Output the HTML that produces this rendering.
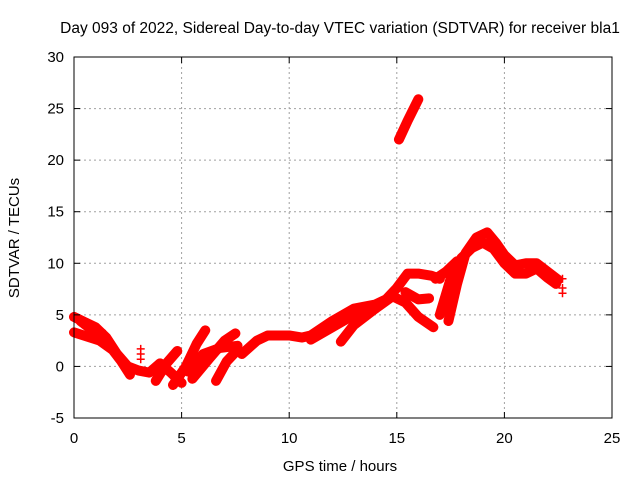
<!DOCTYPE html>
<html><head><meta charset="utf-8"><style>
body{margin:0;background:#fff;}
svg{display:block;font-family:"Liberation Sans",sans-serif;}
</style></head><body>
<svg id="chart" width="640" height="480">
<rect width="640" height="480" fill="#fff"/>
<text x="340" y="33" text-anchor="middle" font-size="15.5" fill="#000">Day 093 of 2022, Sidereal Day-to-day VTEC variation (SDTVAR) for receiver bla1</text>
<text x="340" y="471" text-anchor="middle" font-size="15" fill="#000">GPS time / hours</text>
<text transform="translate(19,238) rotate(-90)" text-anchor="middle" font-size="15" fill="#000">SDTVAR / TECUs</text>
<g id="grid"></g><g id="marks"></g><g id="axes"></g>
</svg>
<script>
const xTicks=[0,5,10,15,20,25];
const yTicks=[-5,0,5,10,15,20,25,30];
const trackA=[[0,4.8],[0.5,4.3],[1,3.8],[1.5,2.8],[2,1.2],[2.5,0],[3,-0.4],[3.5,-0.6],[4,0.3],[4.5,-0.6],[5,-1.6]];
const trackB=[[0,3.3],[0.6,2.9],[1.2,2.5],[1.8,1.6],[2.2,0.5],[2.6,-0.8]];
const trackB2=[[0.3,4.4],[0.8,3.6],[1.3,3.2]];
const trackC=[[4.6,-1.8],[5.2,0],[5.7,2.2],[6.1,3.5]];
const trackD=[[5.5,-1.2],[6.3,0.8],[7,2.5],[7.5,3.2]];
const trackE=[[5.3,-0.5],[6,1.2],[6.8,1.8],[7.6,2]];
const trackF=[[6.6,-1.4],[7.1,0.5],[7.6,1.6]];
const trackG=[[3.8,-1.4],[4.3,0.3],[4.8,1.5]];
const trackMain=[[7.8,1.2],[8.5,2.5],[9,3],[10,3],[10.6,2.8],[11,3],[12,4.4],[13,5.6],[14,6],[14.5,6.5],[15,7.6],[15.5,9],[16,9],[16.6,8.8],[17,8.5]];
const trackMain2=[[11,2.6],[12,3.8],[13,5],[14,5.6]];
const trackH=[[12.4,2.4],[13,4],[14,5.6],[14.8,6.8],[15.4,6.2],[16,4.8],[16.7,3.8]];
const trackI=[[15.4,7.2],[16,6.5],[16.5,6.6]];
const trackSpike=[[15.1,22],[15.5,23.8],[16,25.9]];
const trackJ=[[17.4,4.4],[17.8,8],[18.2,11],[18.7,12.5],[19.2,13],[19.6,12],[20,10.8],[20.5,9.8],[21,10],[21.5,10],[22,9.2],[22.5,8.4]];
const trackK=[[17,5],[17.5,8.5],[18,10.5],[18.5,11.5],[19,12],[19.5,11.4],[20,10],[20.5,9],[21,9],[21.5,9.5],[22,8.6],[22.4,8]];
const trackL=[[16.8,8.5],[17.3,9.2],[17.8,10.2]];
const tracks=[trackA,trackB,trackB2,trackC,trackD,trackE,trackF,trackG,trackMain,trackMain2,trackH,trackI,trackSpike,trackJ,trackK,trackL];
const plusA=[[3.1,1.7],[3.1,1.2],[3.1,0.7],[22.7,8.5],[22.7,7.6],[22.7,7.1]];
const NS='http://www.w3.org/2000/svg';
const L=74,R=612,T=57,B=418;
const xs=v=>L+(v-0)/(25-0)*(R-L);
const ys=v=>B-(v+5)/(35)*(B-T);
function mk(t,a,p){const e=document.createElementNS(NS,t);for(const k in a)e.setAttribute(k,a[k]);p.appendChild(e);return e;}
const grid=document.getElementById('grid'),marks=document.getElementById('marks'),axes=document.getElementById('axes');
xTicks.forEach(v=>{
 if(v>0&&v<25){const g=mk('line',{x1:xs(v),x2:xs(v),y1:T,y2:B,stroke:'#a0a0a0','stroke-dasharray':'2,3'},grid);
 
 }
 const t=mk('text',{x:xs(v),y:B+25,'text-anchor':'middle','font-size':15},axes);t.textContent=v;
 
 
 mk('line',{x1:xs(v),x2:xs(v),y1:B,y2:B-6,stroke:'#000'},axes);
 mk('line',{x1:xs(v),x2:xs(v),y1:T,y2:T+6,stroke:'#000'},axes);
});
yTicks.forEach(v=>{
 if(v>-5&&v<30){const g=mk('line',{x1:L,x2:R,y1:ys(v),y2:ys(v),stroke:'#a0a0a0','stroke-dasharray':'2,3'},grid);
 
 }
 const t=mk('text',{x:L-10,y:ys(v)+5,'text-anchor':'end','font-size':15},axes);t.textContent=v;
 
 
 mk('line',{x1:L,x2:L+6,y1:ys(v),y2:ys(v),stroke:'#000'},axes);
 mk('line',{x1:R,x2:R-6,y1:ys(v),y2:ys(v),stroke:'#000'},axes);
});
const fr=mk('rect',{x:L,y:T,width:R-L,height:B-T,fill:'none',stroke:'#000'},axes);


tracks.forEach(tr=>{
 const p=mk('polyline',{points:tr.map(d=>xs(d[0])+','+ys(d[1])).join(' '),fill:'none',stroke:'#ff0000','stroke-width':10,'stroke-linejoin':'round','stroke-linecap':'round'},marks);
 
 
});
plusA.forEach(d=>{
 const x=xs(d[0]),y=ys(d[1]);
 const p=mk('path',{d:`M${x-4},${y}H${x+4}M${x},${y-4}V${y+4}`,stroke:'#ff0000','stroke-width':1.5},marks);
 
 
});
</script>
</body></html>
